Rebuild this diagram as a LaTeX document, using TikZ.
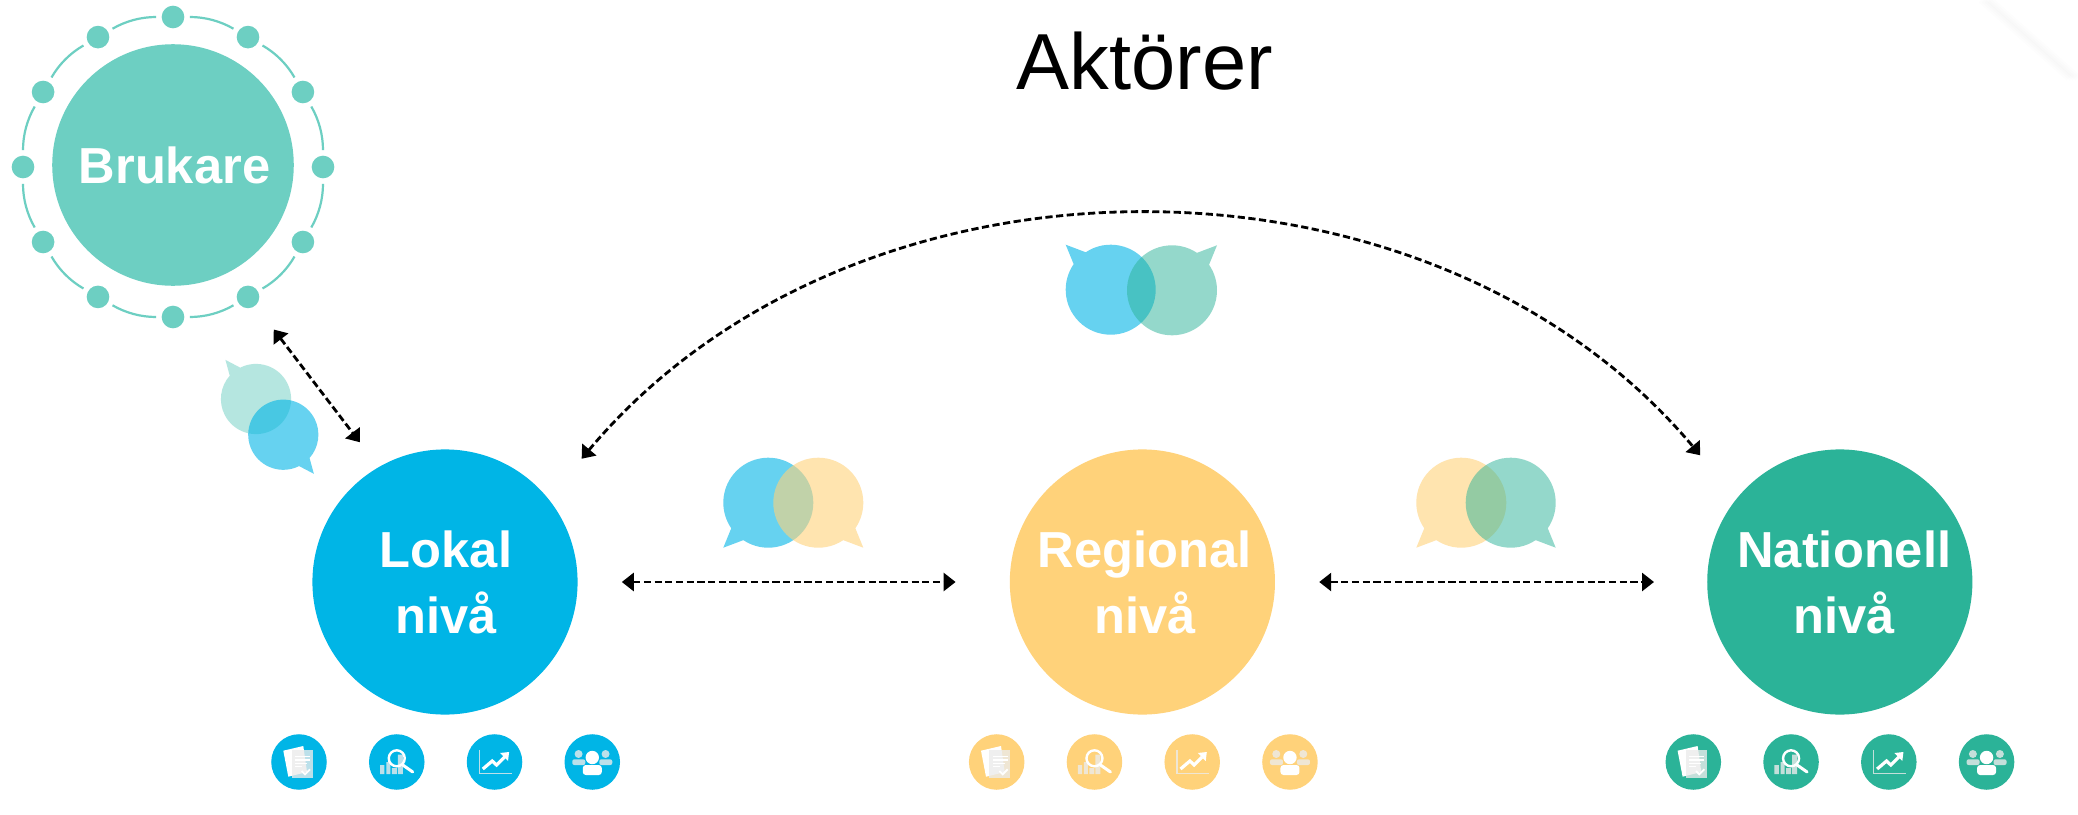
\documentclass[tikz,border=0pt]{standalone}
\usepackage{fontspec}
\setmainfont{Liberation Sans}
\usepackage{xcolor}
\usepackage{tikz}
\usetikzlibrary{arrows.meta}
\usetikzlibrary{calc}
\usetikzlibrary{positioning}

\definecolor{blaa}{HTML}{00B5E6}
\definecolor{gul}{HTML}{FFD27A}
\definecolor{gronn}{HTML}{2BB398}
\definecolor{mint}{HTML}{6DCFC2}

\tikzset{
  pics/bubbla/.style={code={
    \fill[#1] (45,45) -- (56.3:45) arc[start angle=56.3, delta angle=338.3, radius=45] -- cycle;
  }},
  pics/dokikon/.style={code={
    \fill[white] (-15.7,-11.3) -- (4.3,-16) -- (8,10) -- (-10.7,14.7) -- cycle;
    \fill[black!8, fill opacity=.8] (-7.3,-12) rectangle (13.7,15.7);
    \draw[white, line width=.012cm] (-4,-5.3) -- (11,-5.3) (-4,-2) -- (11,-2) (-4,1.3) -- (8,1.3) (-4,4.7) -- (3,4.7);
    \draw[white, line width=.018cm] (2.7,9) -- (6,12.3) -- (11,7.3);
  }},
  pics/lupikon/.style={code={
    \fill[black!8, fill opacity=.8] (-16.7,3) rectangle (-12.3,12) (-10.5,0) rectangle (-6.5,12)
      (-5,6) rectangle (0,12) (1,-7.5) rectangle (6,12);
    \draw[white, line width=.024cm] (0,-3.7) circle (8);
    \draw[white, line width=.03cm, line cap=round] (6,3) -- (16,10);
  }},
  pics/grafikon/.style={code={
    \draw[black!8, opacity=.8, line width=.012cm] (-15.3,-12) -- (-15.3,11.3) -- (17,11.3);
    \draw[white, line width=.032cm] (-11.7,7) -- (-2.3,-1) -- (2,3) -- (10,-5);
    \fill[white] (14.6,-10) -- (5.6,-9) -- (13.5,-1) -- cycle;
  }},
  pics/folkikon/.style={code={
    \fill[black!8, fill opacity=.8] (-13.7,-8) circle (4) (13.3,-8) circle (4);
    \fill[black!8, fill opacity=.8, rounded corners=.02cm] (-20,-2.7) rectangle (-7,3) (7,-2.7) rectangle (20,3);
    \fill[white] (0,-4.5) circle (6.7);
    \fill[white, rounded corners=.03cm] (-9.5,3) rectangle (9.5,13);
  }}
}

\begin{document}
\begin{tikzpicture}[x=0.01cm,y=-0.01cm,node distance=6.97cm]
  \tikzstyle{nivaa}=[circle, inner sep=0pt, minimum size=2.65cm, text=white, align=center,
    font=\fontsize{14.4}{18.8}\selectfont\bfseries]
  \tikzstyle{prick}=[circle, inner sep=0pt, minimum size=.226cm, outer sep=.055cm, fill=mint]
  \tikzstyle{ikon}=[circle, inner sep=0pt, minimum size=.555cm]
  \tikzstyle{ringlinje}=[mint, line width=.022cm]
  \tikzstyle{pil}=[black, line width=.028cm, dash pattern=on .072cm off .035cm,
    {Triangle[length=.12cm,width=.18cm]}-{Triangle[length=.12cm,width=.18cm]}]
  \tikzstyle{blaabub}=[blaa, fill opacity=.6]
  \tikzstyle{gulbub}=[gul, fill opacity=.6]
  \tikzstyle{gronnbub}=[gronn, fill opacity=.5]
  \tikzstyle{mintbub}=[mint, fill opacity=.5]

  \useasboundingbox (0,0) rectangle (2078,815);
  \fill[white] (0,0) rectangle (2078,815);
  \foreach \w in {0,3,6,9}
    \draw[black, opacity=.008, line width=.07cm] (1990-\w,0) -- (2078-\w,78);

  \node[font=\fontsize{22.6}{27}\selectfont, anchor=base] (titel) at (1145,90) {Aktörer};

  % brukare med ring
  \node[nivaa, fill=mint, minimum size=2.414cm] (brukare) at (173,165) {\hspace*{.03cm}Brukare};
  \coordinate (ringmitt) at (173,167);
  \foreach \a [count=\i] in {0,30,...,330}
    \node[prick] (p\i) at ($(ringmitt)+(\a:150)$) {};
  \foreach \i in {1,...,12} {
    \pgfmathtruncatemacro\j{mod(\i,12)+1}
    \path[ringlinje] (p\i) edge[bend left=15, looseness=.87] (p\j);
  }

  % nivåer
  \node[nivaa, fill=blaa] (lokal) at (445,582) {\hspace*{.02cm}Lokal\\\hspace*{.02cm}nivå};
  \node[nivaa, fill=gul] (regional) [right of=lokal] {\hspace*{.05cm}Regional\\\hspace*{.05cm}nivå};
  \node[nivaa, fill=gronn] (nationell) [right of=regional] {\hspace*{.09cm}Nationell\\\hspace*{.09cm}nivå};

  \path
    (lokal) edge[pil, shorten <=.435cm, shorten >=.535cm] (regional)
    (regional) edge[pil, shorten <=.435cm, shorten >=.525cm] (nationell)
    (lokal.39.7) edge[pil, out=50, in=130, looseness=1.03, shorten <=.514cm, shorten >=.559cm] (nationell.141.1)
    (brukare.-62.2) edge[pil, shorten <=.72cm, shorten >=.306cm] (lokal.120.1);

  % pratbubblor
  \pic[xscale=-1, yscale=-1] at (1110.7,289.7) {bubbla=blaabub};
  \pic[yscale=-1] at (1172,290.3) {bubbla=gronnbub};
  \pic[xscale=-1] at (768.3,502.7) {bubbla=blaabub};
  \pic at (818.3,502.7) {bubbla=gulbub};
  \pic[xscale=-1] at (1461.3,502.7) {bubbla=gulbub};
  \pic at (1510.7,502.7) {bubbla=gronnbub};
  \pic[scale=.78, rotate=-7, xscale=-1, yscale=-1] at (256,399) {bubbla=mintbub};
  \pic[scale=.78, rotate=-7] at (283.3,434.7) {bubbla=blaabub};

  % ikoner
  \foreach \niv/\farg/\xpos in {L/blaa/299, R/gul/996.7, N/gronn/1693.3} {
    \begin{scope}[node distance=.977cm]
      \node[ikon, fill=\farg] (\niv1) at (\xpos,762) {};
      \node[ikon, fill=\farg] (\niv2) [right of=\niv1] {};
      \node[ikon, fill=\farg] (\niv3) [right of=\niv2] {};
      \node[ikon, fill=\farg] (\niv4) [right of=\niv3] {};
    \end{scope}
    \pic at (\niv1) {dokikon};
    \pic at (\niv2) {lupikon};
    \pic at (\niv3) {grafikon};
    \pic at (\niv4) {folkikon};
  }
\end{tikzpicture}
\end{document}
